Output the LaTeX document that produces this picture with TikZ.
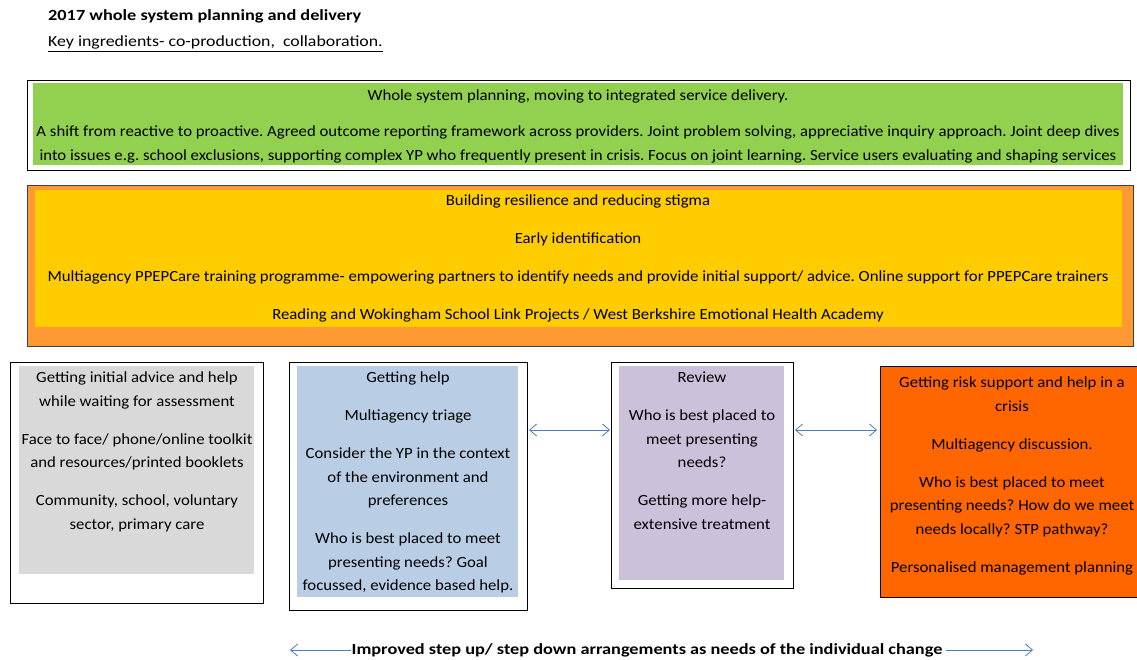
\documentclass[tikz,border=0pt]{standalone}
\usepackage{fontspec}
\setmainfont{Carlito}[FakeStretch=1.08]
\newfontfamily\boldfam{Carlito Bold}[FakeStretch=1.18]
\newfontfamily\keyfam{Carlito}[FakeStretch=1.15]
\usetikzlibrary{arrows.meta,calc}
\definecolor{cgreen}{HTML}{92D050}
\definecolor{corange}{HTML}{FF9933}
\definecolor{cyellow}{HTML}{FFCC00}
\definecolor{cgrey}{HTML}{D9D9D9}
\definecolor{cblue}{HTML}{B9CDE5}
\definecolor{cpurple}{HTML}{CCC1DA}
\definecolor{ccrisis}{HTML}{FF6600}
\definecolor{arrowblue}{HTML}{4A7EBB}
\begin{document}
\frenchspacing
\begin{tikzpicture}[x=1pt,y=-1pt,
  every node/.style={font=\fontsize{15.5}{23.5}\selectfont, text=black},
  panel/.style={draw=black, line width=0.8pt, inner sep=0pt, outer sep=0pt, anchor=north west},
  fillbox/.style={draw=none, inner sep=0pt, outer sep=0pt, anchor=north west},
  txt/.style={align=center, inner sep=0pt, anchor=north},
  boldtxt/.style={inner sep=0pt, font=\fontsize{15.5}{17}\selectfont\boldfam},
  arr/.style={draw=arrowblue, line width=0.8pt, {Straight Barb[length=7pt,width=12pt]}-{Straight Barb[length=7pt,width=12pt]}},
  arrone/.style={draw=arrowblue, line width=0.8pt, -{Straight Barb[length=7pt,width=12pt]}}]
\useasboundingbox[fill=white] (0,0) rectangle (1137,660);

% title
\node[boldtxt, anchor=base west] (title) at (48,21) {2017 whole system planning and delivery};
\node[anchor=base west, inner sep=0pt, font=\fontsize{15.5}{17}\selectfont\keyfam] (key) at (48,47) {\underline{Key ingredients- co-production,\ \ collaboration.}};

% green band
\node[panel, minimum width=1103pt, minimum height=90pt] (gout) at (27,80) {};
\node[fillbox, fill=cgreen, minimum width=1090pt, minimum height=82pt] (gin) at (33,83) {};
\node[txt] (gtxt) at (578,90) {Whole system planning, moving to integrated service delivery.\\[12.5pt]
A shift from reactive to proactive. Agreed outcome reporting framework across providers. Joint problem solving, appreciative inquiry approach. Joint deep dives\\
into issues e.g. school exclusions, supporting complex YP who frequently present in crisis. Focus on joint learning. Service users evaluating and shaping services};

% orange band
\node[panel, draw=black!75, fill=corange, minimum width=1106pt, minimum height=161pt] (oout) at (27,185) {};
\node[fillbox, fill=cyellow, minimum width=1087pt, minimum height=137pt] (oin) at (35,190) {};
\node[txt] (otxt) at (578,195) {Building resilience and reducing stigma\\[14.5pt]
Early identification\\[14.5pt]
Multiagency PPEPCare training programme- empowering partners to identify needs and provide initial support/ advice. Online support for PPEPCare trainers\\[14.5pt]
Reading and Wokingham School Link Projects / West Berkshire Emotional Health Academy};

% box 1
\node[panel, minimum width=253pt, minimum height=241pt] (b1) at (10,362) {};
\node[fillbox, fill=cgrey, minimum width=235pt, minimum height=208pt] (b1in) at (19,366) {};
\node[txt] (b1txt) at (137,372) {Getting initial advice and help\\
while waiting for assessment\\[14.5pt]
Face to face/ phone/online toolkit\\
and resources/printed booklets\\[14.5pt]
Community, school, voluntary\\
sector, primary care};

% box 2
\node[panel, minimum width=238pt, minimum height=248pt] (b2) at (289,362) {};
\node[fillbox, fill=cblue, minimum width=221pt, minimum height=231pt] (b2in) at (297,366) {};
\node[txt] (b2txt) at (408,372) {Getting help\\[14.5pt]
Multiagency triage\\[14.5pt]
Consider the YP in the context\\
of the environment and\\
preferences\\[14.5pt]
Who is best placed to meet\\
presenting needs? Goal\\
focussed, evidence based help.};

% box 3
\node[panel, minimum width=182pt, minimum height=226pt] (b3) at (611,362) {};
\node[fillbox, fill=cpurple, minimum width=165pt, minimum height=214pt] (b3in) at (619,366) {};
\node[txt] (b3txt) at (702,372) {Review\\[14.5pt]
Who is best placed to\\
meet presenting\\
needs?\\[14.5pt]
Getting more help-\\
extensive treatment};

% box 4
\node[panel, fill=ccrisis, minimum width=262pt, minimum height=231pt] (b4) at (880,366) {};
\node[txt] (b4txt) at (1012,377) {Getting risk support and help in a\\
crisis\\[14.5pt]
Multiagency discussion.\\[14.5pt]
Who is best placed to meet\\
presenting needs? How do we meet\\
needs locally? STP pathway?\\[14.5pt]
Personalised management planning};

% connectors between boxes
\coordinate (row) at (0,430);
\draw[arr] ($(b2.east |- row)+(2,0)$) -- ($(b3.west |- row)+(-1,0)$);
\draw[arr] ($(b3.east |- row)+(2,0)$) -- ($(b4.west |- row)+(-3,0)$);

% bottom arrow
\node[boldtxt] (steps) at (647,650) {Improved step up/ step down arrangements as needs of the individual change};
\coordinate (sl) at (290,650);
\coordinate (sr) at (1033,650);
\draw[arrone] (steps.west) -- (sl);
\draw[arrone] ($(steps.east)+(3,0)$) -- (sr);
\end{tikzpicture}
\end{document}
